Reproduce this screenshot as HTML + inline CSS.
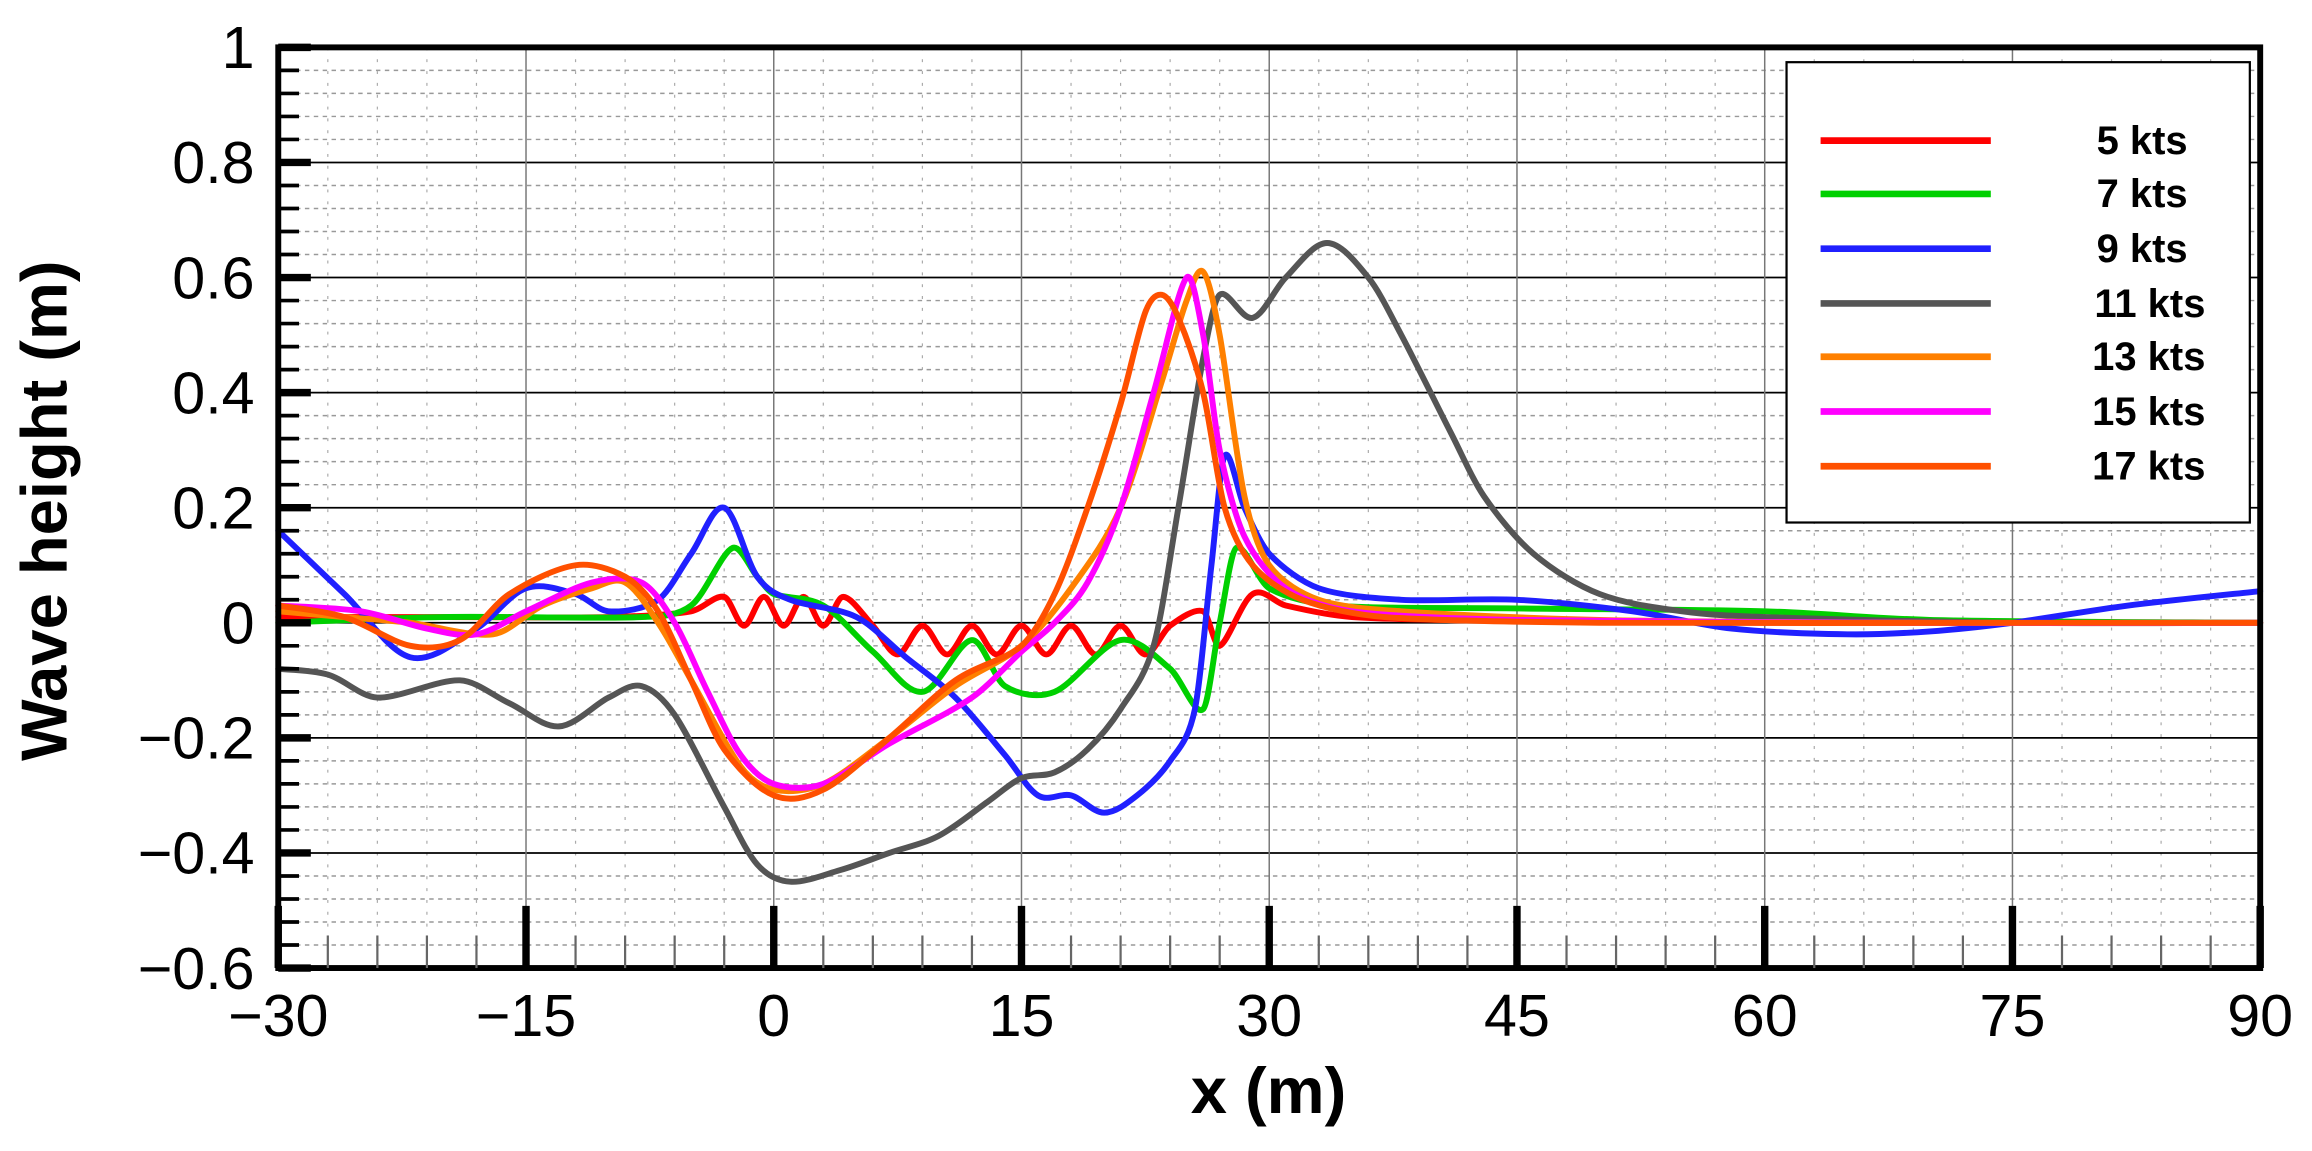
<!DOCTYPE html>
<html><head><meta charset="utf-8"><style>
html,body{margin:0;padding:0;background:#fff;}
svg{display:block;}
text{font-family:"Liberation Sans",Arial,sans-serif;}
</style></head><body>
<svg id="s" width="2312" height="1151" viewBox="0 0 1562 777.6" xmlns="http://www.w3.org/2000/svg">
<g id="grid"></g>
<g id="curves" fill="none" stroke-width="4" stroke-linejoin="round" stroke-linecap="round"></g>
<g id="legend"></g>
<g id="axes"></g>
<text x="45" y="345" transform="rotate(-90 45 345)" text-anchor="middle" font-size="44" font-weight="bold">Wave height (m)</text>
<text x="857" y="752" text-anchor="middle" font-size="44" font-weight="bold">x (m)</text>
</svg>
<script>
const L=188,R=1527,T=32,B=654;
const X=m=>L+(m+30)*(R-L)/120;
const Y=v=>B-(v+0.6)*(B-T)/1.6;
const ns="http://www.w3.org/2000/svg";
function el(p,tag,a,txt){const e=document.createElementNS(ns,tag);for(const k in a)e.setAttribute(k,a[k]);if(txt!==undefined)e.textContent=txt;document.getElementById(p).appendChild(e);return e;}
for(let i=1;i<40;i++){let v=-0.6+i*0.04;if(i%5==0)continue;el("grid","line",{x1:L,x2:R,y1:Y(v),y2:Y(v),stroke:"#999","stroke-width":1,"stroke-dasharray":"3,3"});}
for(let i=1;i<40;i++){let m=-30+i*3;if(i%5==0)continue;el("grid","line",{x1:X(m),x2:X(m),y1:T,y2:B,stroke:"#aaa","stroke-width":0.8,"stroke-dasharray":"2,6"});}
for(let i=1;i<8;i++){let v=-0.6+i*0.2;el("grid","line",{x1:L,x2:R,y1:Y(v),y2:Y(v),stroke:"#000","stroke-width":1.2});}
for(let i=1;i<8;i++){let m=-30+i*15;el("grid","line",{x1:X(m),x2:X(m),y1:T,y2:B,stroke:"#777","stroke-width":1});}
el("axes","rect",{x:L,y:T,width:R-L,height:B-T,fill:"none",stroke:"#000","stroke-width":4});
for(let i=0;i<=40;i++){let v=-0.6+i*0.04;let maj=i%5==0;el("axes","line",{x1:L,x2:L+(maj?22:14),y1:Y(v),y2:Y(v),stroke:"#000","stroke-width":maj?5:2.5});}
for(let i=0;i<=40;i++){let m=-30+i*3;let maj=i%5==0;el("axes","line",{x1:X(m),x2:X(m),y1:B,y2:B-(maj?42:22),stroke:maj?"#000":"#666","stroke-width":maj?5:1.5});}
const yl=["\u22120.6","\u22120.4","\u22120.2","0","0.2","0.4","0.6","0.8","1"];
yl.forEach((t,i)=>el("axes","text",{x:172,y:Y(-0.6+i*0.2)+14,"text-anchor":"end","font-size":40},t));
const xl=["\u221230","\u221215","0","15","30","45","60","75","90"];
xl.forEach((t,i)=>el("axes","text",{x:X(-30+i*15),y:700,"text-anchor":"middle","font-size":40},t));
function path(pts){pts=pts.map(p=>[X(p[0]),Y(p[1])]);let d="M"+pts[0][0]+","+pts[0][1];
for(let i=0;i<pts.length-1;i++){const p0=pts[i-1]||pts[i],p1=pts[i],p2=pts[i+1],p3=pts[i+2]||p2;
const dx=p2[0]-p1[0];
let t1x=(p2[0]-p0[0])/6,t1y=(p2[1]-p0[1])/6,t2x=(p3[0]-p1[0])/6,t2y=(p3[1]-p1[1])/6;
let s1=Math.min(1,dx/3/Math.max(t1x,1e-6)),s2=Math.min(1,dx/3/Math.max(t2x,1e-6));
t1x*=s1;t1y*=s1;t2x*=s2;t2y*=s2;
d+=" C"+(p1[0]+t1x)+","+(p1[1]+t1y)+" "+(p2[0]-t2x)+","+(p2[1]-t2y)+" "+p2[0]+","+p2[1];}return d;}
function osc(a,b,step,base,amp){let r=[];let k=0;for(let m=a;m<=b+1e-9;m+=step/2){r.push([m,base+(k%2?-amp:amp)]);k++;}return r;}
const series=[
["#ff0000",[[-30,0.01],[-20,0.01],[-10,0.01],[-5,0.02]].concat(osc(-3,5,2.4,0.02,0.025)).concat(osc(6,24,3,-0.03,0.025)).concat([[26,0.02],[27,-0.04],[29,0.05],[31,0.03],[35,0.01],[45,0.003],[60,0],[90,0]])],
["#00d000",[[-30,0],[-20,0.01],[-8,0.01],[-5,0.03],[-2.5,0.13],[-1,0.08],[0,0.05],[3,0.03],[6,-0.05],[9,-0.12],[12,-0.03],[14,-0.11],[17,-0.12],[21,-0.03],[24,-0.08],[26,-0.15],[27,0],[28,0.13],[30,0.06],[34,0.03],[45,0.025],[60,0.02],[70,0.005],[90,0]]],
["#2020ff",[[-30,0.16],[-26,0.05],[-22,-0.06],[-18,-0.01],[-15,0.06],[-12,0.05],[-10,0.02],[-7,0.04],[-5,0.12],[-3,0.2],[-1,0.08],[1,0.04],[5,0.01],[8,-0.06],[11,-0.13],[14,-0.23],[16,-0.3],[18,-0.3],[20,-0.33],[22,-0.3],[24,-0.24],[25.5,-0.15],[26.5,0.1],[27.3,0.29],[28.5,0.2],[30,0.12],[33,0.06],[38,0.04],[45,0.04],[52,0.02],[58,-0.01],[65,-0.02],[70,-0.015],[75,0],[82,0.03],[90,0.055]]],
["#555555",[[-30,-0.08],[-27,-0.09],[-24,-0.13],[-19,-0.1],[-16,-0.14],[-13,-0.18],[-10,-0.13],[-8,-0.11],[-6,-0.16],[-3,-0.32],[-1,-0.42],[1,-0.45],[4,-0.43],[7,-0.4],[10,-0.37],[13,-0.31],[15,-0.27],[17,-0.26],[19,-0.22],[21,-0.15],[23,-0.04],[24.5,0.2],[26,0.46],[27,0.57],[29,0.53],[31,0.6],[33.5,0.66],[36,0.6],[38,0.5],[41,0.33],[43,0.22],[46,0.12],[50,0.05],[55,0.02],[60,0.01],[75,0],[90,0]]],
["#ff8000",[[-30,0.02],[-26,0.01],[-22,0],[-17,-0.02],[-14,0.03],[-11,0.06],[-9,0.07],[-7,0.0],[-5,-0.1],[-2,-0.25],[0,-0.29],[3,-0.28],[7,-0.2],[11,-0.11],[15,-0.04],[18,0.06],[21,0.2],[23.5,0.42],[25,0.56],[26,0.61],[27,0.5],[28.5,0.22],[30,0.1],[33,0.04],[38,0.02],[50,0.005],[70,0],[90,0]]],
["#ff00ff",[[-30,0.03],[-25,0.02],[-21,-0.01],[-18,-0.02],[-15,0.02],[-11,0.07],[-8,0.07],[-6,0.0],[-4,-0.12],[-2,-0.23],[0,-0.28],[3,-0.28],[7,-0.21],[12,-0.13],[15,-0.05],[17,0],[19,0.07],[21,0.2],[23,0.4],[25,0.6],[26,0.5],[27,0.3],[28.5,0.15],[31,0.06],[35,0.02],[45,0.005],[70,0],[90,0]]],
["#ff5000",[[-30,0.03],[-26,0.01],[-22,-0.04],[-19,-0.03],[-16,0.05],[-12,0.1],[-9,0.08],[-7,0.02],[-5,-0.1],[-3,-0.22],[0,-0.3],[3,-0.29],[7,-0.2],[11,-0.1],[15,-0.04],[17,0.05],[19,0.2],[21,0.38],[22.5,0.54],[23.5,0.57],[24.5,0.53],[26,0.4],[27.3,0.2],[29,0.1],[32,0.04],[37,0.01],[50,0],[70,0],[90,0]]]
];
series.forEach(s=>el("curves","path",{d:path(s[1]),stroke:s[0]}));
el("legend","rect",{x:1207,y:42,width:313,height:311,fill:"#fff",stroke:"#000","stroke-width":1.5});
const lab=["5 kts","7 kts","9 kts","11 kts","13 kts","15 kts","17 kts"];
const ly=[95,131,168,205,241,278,315];
lab.forEach((t,i)=>{el("legend","line",{x1:1230,x2:1345,y1:ly[i],y2:ly[i],stroke:series[i][0],"stroke-width":4.5});
el("legend","text",{x:i<3?1478:1490,y:ly[i]+9,"text-anchor":"end","font-size":27,"font-weight":"bold"},t);});
</script>
</body></html>
